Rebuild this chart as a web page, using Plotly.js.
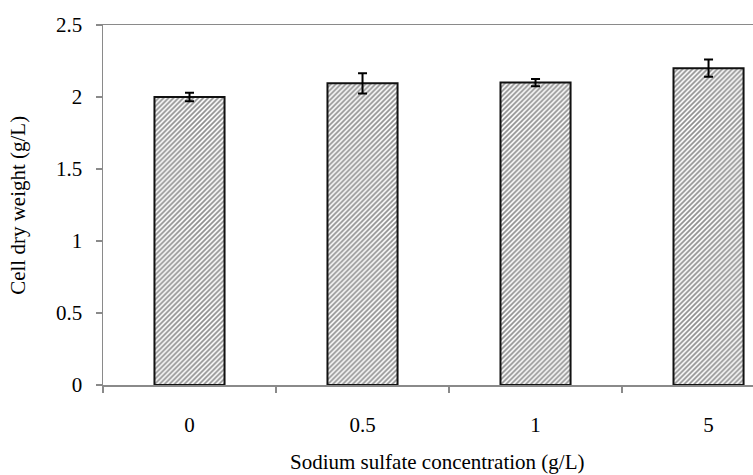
<!DOCTYPE html>
<html>
<head>
<meta charset="utf-8">
<script src="https://cdn.plot.ly/plotly-3.0.1.min.js"></script>
<style>html,body{margin:0;padding:0;background:#fff;}#chart{width:753px;height:475px;}</style>
</head>
<body>
<div id="chart"></div>
<script>
const categories = ["0", "0.5", "1", "5"];
const cellDryWeight = [2.00, 2.095, 2.10, 2.20];
const errorValues = [0.03, 0.07, 0.025, 0.06];
const yTickValues = [0, 0.5, 1, 1.5, 2, 2.5];
const yTickLabels = ["0", "0.5", "1", "1.5", "2", "2.5"];
const xTitle = "Sodium sulfate concentration (g/L)";
const yTitle = "Cell dry weight (g/L)";

const font = "'Liberation Serif', 'Times New Roman', serif";
const fs = 21;

const trace = {
  type: "bar",
  x: categories,
  y: cellDryWeight,
  width: 0.405,
  marker: {
    color: "#ffffff",
    line: {color: "#111111", width: 2},
    pattern: {shape: "/", size: 3.5, solidity: 0.5, fgcolor: "#222222", bgcolor: "#ffffff", fillmode: "overlay"}
  },
  error_y: {type: "data", array: errorValues, visible: true, color: "#000000", thickness: 2, width: 4.5},
  hoverinfo: "skip"
};

const layout = {
  width: 753, height: 475,
  margin: {l: 103, r: 0, t: 25, b: 90},
  paper_bgcolor: "#ffffff", plot_bgcolor: "#ffffff",
  showlegend: false,
  font: {family: font, size: fs, color: "#000"},
  xaxis: {
    type: "category",
    range: [-0.5, 3.257],
    showline: true, linecolor: "#8a8a8a", linewidth: 1.5, mirror: true,
    ticks: "outside", tickson: "boundaries", ticklen: 6, tickcolor: "#8a8a8a", tickwidth: 1.5,
    ticklabelstandoff: 20,
    showgrid: false, zeroline: false,
    tickfont: {family: font, size: fs, color: "#000"}
  },
  yaxis: {
    range: [0, 2.5],
    tickvals: yTickValues, ticktext: yTickLabels,
    showline: true, linecolor: "#8a8a8a", linewidth: 1.5,
    ticks: "outside", ticklen: 6, tickcolor: "#8a8a8a", tickwidth: 1.5,
    ticklabelstandoff: 9,
    showgrid: false, zeroline: false,
    tickfont: {family: font, size: fs, color: "#000"}
  },
  annotations: [
    {text: xTitle, xref: "paper", yref: "paper", x: 0.515, y: -0.214, showarrow: false,
     xanchor: "center", yanchor: "middle", font: {family: font, size: fs, color: "#000"}},
    {text: yTitle, xref: "paper", yref: "paper", x: -0.131, y: 0.5, showarrow: false, textangle: -90,
     xanchor: "center", yanchor: "middle", font: {family: font, size: fs, color: "#000"}}
  ]
};

Plotly.newPlot("chart", [trace], layout, {staticPlot: true, displayModeBar: false});
</script>
</body>
</html>
